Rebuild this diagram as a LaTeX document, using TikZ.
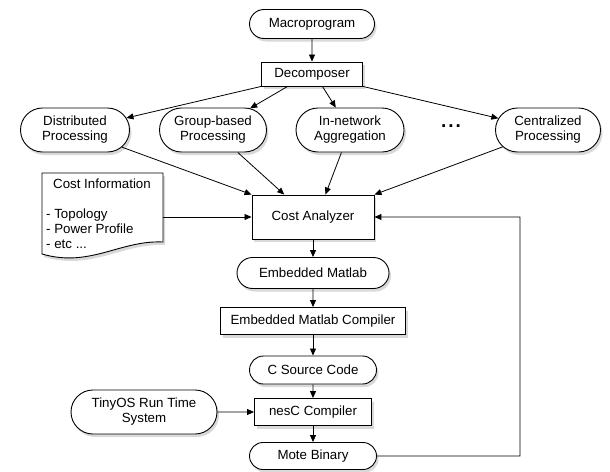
\documentclass[tikz,border=0pt]{standalone}
\usepackage{fontspec}
\setmainfont{Liberation Sans}
\usetikzlibrary{arrows.meta,shapes.misc,shadows}

\tikzset{
  box/.style={draw,fill=white,line width=0.9pt,
    drop shadow={shadow xshift=2pt,shadow yshift=-3pt,opacity=0.3}},
  pill/.style={box,rounded rectangle,align=center,inner xsep=4pt},
  flow/.style={-{Triangle[length=7pt,width=6pt]},line width=0.8pt}
}

\begin{document}
\begin{tikzpicture}[x=1pt,y=-1pt,font=\fontsize{13.3}{15}\selectfont]
\useasboundingbox (0,0) rectangle (610,471);
% top of the chain
\node[pill,minimum width=133pt,minimum height=29pt] (macro) at (312,24) {Macroprogram};
\node[box,minimum width=101pt,minimum height=24pt] (decomp) at (312,74) {Decomposer};
%
\node[pill,minimum width=117pt,minimum height=44pt] (distr) at (75,130) {Distributed\\Processing};
\node[pill,minimum width=115pt,minimum height=44pt] (group) at (213,130) {Group-based\\Processing};
\node[pill,minimum width=116pt,minimum height=44pt] (innet) at (350,130) {In-network\\Aggregation};
\node (dots) at (451,126) {\fontsize{19}{19}\bfseries .\hspace{2pt}.\hspace{2pt}.};
\node[pill,minimum width=113pt,minimum height=44pt] (central) at (548,130) {Centralized\\Processing};
%
% cost information sheet
\draw[fill=white,line width=0.9pt,drop shadow={shadow xshift=2pt,shadow yshift=-3pt,opacity=0.3}]
  (42,173) -- (163,173) -- (163,242) .. controls (120,240) and (90,268) .. (42,254) -- cycle;
\node (infotitle) at (102,184) {Cost Information};
\node[align=left,anchor=west,inner sep=0pt] (infolist) at (46,229) {- Topology\\- Power Profile\\- etc ...};
\coordinate (infoout) at (163,217);
%
\node[box,minimum width=122pt,minimum height=44pt] (cost) at (313,217) {Cost Analyzer};
\node[pill,minimum width=160pt,minimum height=31pt] (em) at (313,273) {Embedded Matlab};
\node[box,minimum width=185pt,minimum height=27pt] (emc) at (313,321) {Embedded Matlab Compiler};
\node[pill,minimum width=135pt,minimum height=28pt] (csrc) at (313,370) {C Source Code};
\node[box,minimum width=117pt,minimum height=27pt] (nesc) at (313,412) {nesC Compiler};
\node[pill,minimum width=154pt,minimum height=44pt] (tinyos) at (144,412) {TinyOS Run Time\\System};
\node[pill,minimum width=135pt,minimum height=27pt] (mote) at (313,456) {Mote Binary};
\coordinate (turn) at (520,456);
%
% connectors
\draw[flow] (macro) -- (decomp);
\draw[flow] (decomp.south west) -- (distr);
\draw[flow] (decomp.207) -- (group);
\draw[flow] (decomp.310) -- (innet);
\draw[flow] (decomp.south east) -- (central);
\draw[flow] (distr) -- (cost.north west);
\draw[flow] (group) -- (cost.142);
\draw[flow] (innet) -- (cost.61);
\draw[flow] (central) -- (cost.north east);
\draw[flow] (infoout) -- (cost);
\draw[flow] (cost) -- (em);
\draw[flow] (em) -- (emc);
\draw[flow] (emc) -- (csrc);
\draw[flow] (csrc) -- (nesc);
\draw[flow] (tinyos) -- (nesc);
\draw[flow] (nesc) -- (mote);
\draw[flow] (mote) -- (turn) |- (cost);
\end{tikzpicture}
\end{document}
